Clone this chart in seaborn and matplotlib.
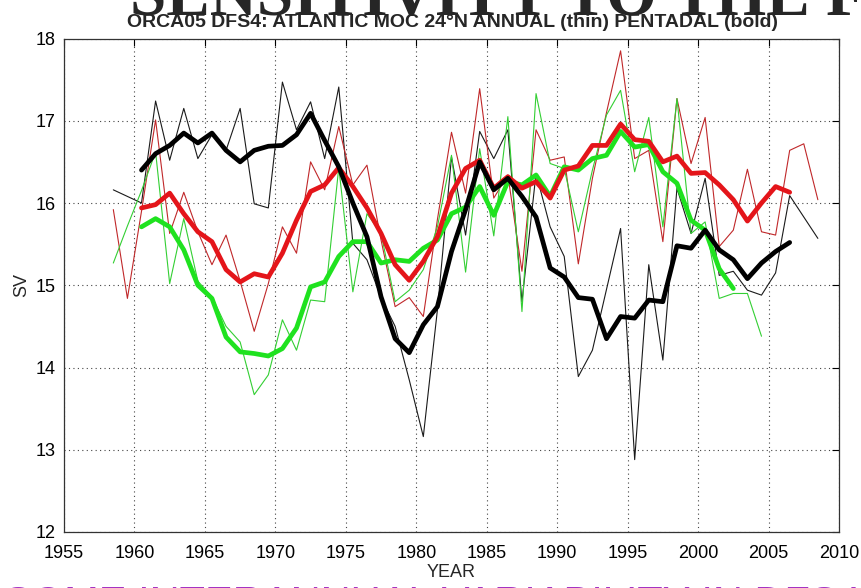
import numpy as np
import pandas as pd
import matplotlib
matplotlib.use("Agg")
import matplotlib.pyplot as plt
import seaborn as sns

# Annual means, plotted at mid-year
annual_start, annual_end = 1958, 2008
black_annual = [16.16, 16.08, 16.00, 17.24, 16.52, 17.15, 16.54, 16.83, 16.64, 17.15,
                15.99, 15.94, 17.47, 16.89, 17.23, 16.54, 17.41, 15.51, 15.31, 14.85,
                14.50, 13.85, 13.16, 14.70, 16.56, 15.61, 16.87, 16.54, 16.89, 14.80,
                16.36, 15.71, 15.35, 13.89, 14.21, 14.95, 15.69, 12.88, 15.25, 14.09,
                16.18, 15.63, 16.30, 15.12, 15.17, 14.94, 14.88, 15.15, 16.09, 15.83, 15.57]
red_annual = [15.92, 14.84, 15.90, 17.01, 15.63, 16.13, 15.65, 15.25, 15.61, 15.05,
              14.44, 15.02, 15.71, 15.39, 16.50, 16.16, 16.93, 16.22, 16.46, 15.55,
              14.74, 14.85, 14.62, 15.80, 16.86, 16.12, 17.39, 16.06, 16.34, 15.17,
              16.89, 16.52, 16.56, 15.26, 16.30, 17.10, 17.85, 16.54, 16.64, 15.53,
              17.27, 16.48, 17.04, 15.47, 15.67, 16.41, 15.65, 15.61, 16.64, 16.72, 16.04]
green_annual = [15.27, 15.72, 16.15, 16.62, 15.02, 15.81, 15.05, 14.86, 14.50, 14.31,
                13.67, 13.91, 14.58, 14.21, 14.82, 14.80, 16.43, 14.92, 15.87, 15.63,
                14.80, 14.94, 15.19, 15.71, 16.58, 15.16, 16.66, 15.60, 17.05, 14.68,
                17.33, 16.48, 16.42, 15.65, 16.40, 17.07, 17.37, 16.38, 17.04, 15.71,
                17.27, 15.63, 15.77, 14.84, 14.90, 14.90, 14.38]

# Pentadal running means, centred
pent_start = 1960
black_pent = [16.40, 16.60, 16.70, 16.85, 16.73, 16.85, 16.64, 16.50, 16.64, 16.69,
              16.70, 16.83, 17.09, 16.76, 16.44, 16.00, 15.59, 14.86, 14.35, 14.18,
              14.52, 14.74, 15.41, 15.92, 16.50, 16.16, 16.30, 16.08, 15.83, 15.21,
              15.10, 14.85, 14.83, 14.35, 14.62, 14.60, 14.82, 14.80, 15.48, 15.45,
              15.67, 15.43, 15.31, 15.08, 15.27, 15.41, 15.52]
red_pent = [15.94, 15.98, 16.12, 15.87, 15.65, 15.53, 15.19, 15.04, 15.14, 15.10,
            15.39, 15.79, 16.14, 16.22, 16.43, 16.20, 15.94, 15.63, 15.25, 15.06,
            15.29, 15.59, 16.12, 16.42, 16.52, 16.18, 16.32, 16.18, 16.26, 16.06,
            16.40, 16.45, 16.70, 16.70, 16.96, 16.77, 16.75, 16.50, 16.57, 16.36,
            16.37, 16.22, 16.04, 15.78, 16.00, 16.20, 16.13]
green_pent = [15.71, 15.81, 15.71, 15.43, 15.00, 14.84, 14.37, 14.19, 14.17, 14.14,
              14.23, 14.48, 14.98, 15.04, 15.35, 15.53, 15.53, 15.27, 15.31, 15.29,
              15.45, 15.55, 15.87, 15.95, 16.20, 15.85, 16.26, 16.22, 16.34, 16.08,
              16.44, 16.40, 16.54, 16.58, 16.87, 16.68, 16.71, 16.38, 16.24, 15.79,
              15.67, 15.20, 14.96]

x_ticks = [1955, 1960, 1965, 1970, 1975, 1980, 1985, 1990, 1995, 2000, 2005, 2010]
y_ticks = [12, 13, 14, 15, 16, 17, 18]


def series(start, values):
    years = start + 0.5 + np.arange(len(values))
    return pd.DataFrame({"year": years, "sv": values})


sns.set_style("white")
plt.rcParams["font.family"] = ["Liberation Sans", "DejaVu Sans"]

fig = plt.figure(figsize=(8.62, 5.88), dpi=100)
ax = fig.add_axes([64 / 862, 1 - 532 / 588, 775 / 862, 493.5 / 588])

thin = [(black_annual, "#1a1a1a"), (red_annual, "#c0282a"), (green_annual, "#33cf33")]
for vals, col in thin:
    sns.lineplot(data=series(annual_start, vals), x="year", y="sv", color=col,
                 lw=0.8, ax=ax, zorder=2)

bold = [(green_pent, "#1fe21f"), (red_pent, "#e4151a"), (black_pent, "#000000")]
for vals, col in bold:
    sns.lineplot(data=series(pent_start, vals), x="year", y="sv", color=col,
                 lw=3.4, ax=ax, zorder=3, solid_joinstyle="round")

ax.set_xlim(1955, 2010)
ax.set_ylim(12, 18)
ax.set_xticks(x_ticks)
ax.set_yticks(y_ticks)
ax.tick_params(direction="in", top=True, right=True, length=5, width=0.8,
               labelsize=13, colors="black")
ax.tick_params(axis="x", pad=9)
ax.tick_params(axis="y", pad=6)
ax.grid(True, linestyle=(0, (1, 3)), color="#444444", lw=0.8)
for s in ax.spines.values():
    s.set_color("#333333")
    s.set_linewidth(0.9)
ax.set_xlabel("YEAR", fontsize=13, labelpad=2)
ax.set_ylabel("SV", fontsize=13, labelpad=4)

fig.text(453 / 862, 1 - 27 / 588,
         "ORCA05 DFS4: ATLANTIC MOC 24\u00b0N ANNUAL (thin) PENTADAL (bold)",
         ha="center", va="baseline", fontsize=14, fontweight="bold")
fig.text(130 / 862, 1 - 15 / 588, "SENSITIVITY TO THE FORCING",
         ha="left", va="baseline", fontsize=47, fontweight="bold",
         family=["Liberation Serif", "DejaVu Serif"])
fig.text(4 / 862, 1 - 616 / 588, "SOME INTERANNUAL VARIABILITY IN DFS4",
         ha="left", va="baseline", fontsize=30, color="#a533c2",
         family=["Liberation Sans", "DejaVu Sans"])

fig.savefig("out.png", dpi=100)
